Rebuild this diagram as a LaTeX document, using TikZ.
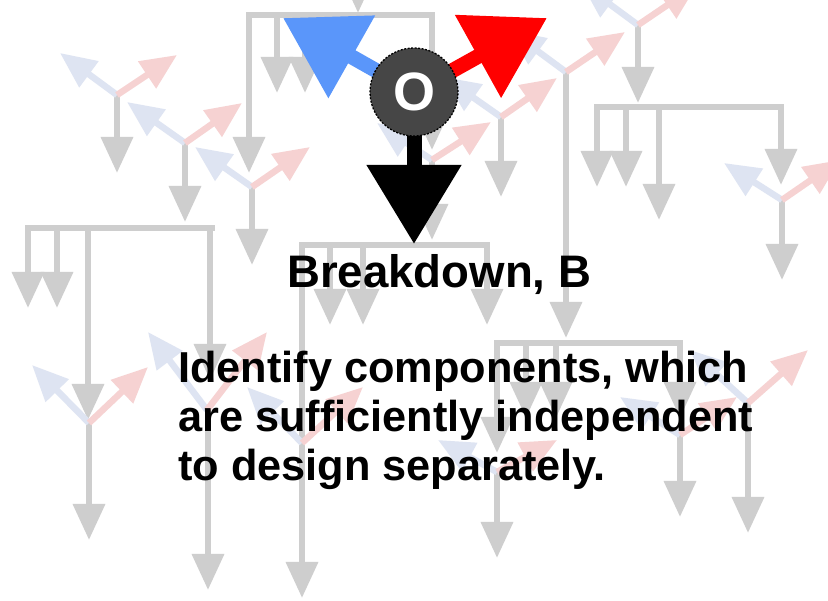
\documentclass[tikz,border=0pt]{standalone}
\usepackage{fontspec}
\setmainfont{Liberation Sans}
\usetikzlibrary{arrows.meta}
\definecolor{bgray}{RGB}{206,206,206}
\definecolor{bblue}{RGB}{222,228,242}
\definecolor{bred}{RGB}{246,210,210}
\definecolor{mainblue}{RGB}{90,150,250}
\definecolor{circgray}{RGB}{70,70,70}
\newcommand\mypastel[3]{\draw[ba] #1 -- #2; \draw[ra] #1 -- #3;}
\begin{document}
\begin{tikzpicture}[x=1pt,y=-1pt,
  gl/.style={draw=bgray,line width=6.5pt},
  ga/.style={gl,-{Triangle[width=31pt,length=36pt]}},
  ba/.style={draw=bblue,line width=6.5pt,-{Triangle[width=31pt,length=36pt]}},
  ra/.style={draw=bred,line width=6.5pt,-{Triangle[width=31pt,length=36pt]}},
  big/.style={line width=15pt,-{Triangle[width=91pt,length=79pt]}},
  txt/.style={font=\fontsize{43.3}{49}\selectfont\bfseries, inner sep=0pt, anchor=base west}]
\useasboundingbox (0,0) rectangle (828,601);
\fill[white] (0,0) rectangle (828,601);
\clip (0,0) rectangle (828,601);
% ---------- background: grey trees ----------
\draw[ga] (358,-40) -- (358,13);
\draw[gl] (246,15) -- (435,15);
\draw[ga] (249,15) -- (249,173);
\draw[ga] (277,15) -- (277,93);
\draw[ga] (305,15) -- (305,93);
\draw[ga] (432,15) -- (432,150);
\draw[ga] (117,95) -- (117,173);
\draw[ga] (185,143) -- (185,222);
\draw[ga] (252,187) -- (252,265);
\draw[gl] (594,107) -- (784,107);
\draw[ga] (597,107) -- (597,187);
\draw[ga] (626,107) -- (626,187);
\draw[ga] (659,107) -- (659,220);
\draw[ga] (781,107) -- (781,185);
\draw[ga] (638,25) -- (638,103);
\draw[ga] (782,200) -- (782,280);
\draw[gl] (25,228) -- (215,228);
\draw[ga] (28,228) -- (28,308);
\draw[ga] (57,228) -- (57,308);
\draw[ga] (88,228) -- (88,420);
\draw[ga] (210,228) -- (210,380);
\draw[ga] (89,423) -- (89,540);
\draw[ga] (208,410) -- (208,590);
\draw[gl] (299,245) -- (490,245);
\draw[ga] (302,245) -- (302,598);
\draw[ga] (330,245) -- (330,325);
\draw[ga] (363,245) -- (363,325);
\draw[ga] (487,245) -- (487,325);
\draw[ga] (432,160) -- (432,240);
\draw[ga] (501,117) -- (501,197);
\draw[ga] (566,72) -- (566,338);
\draw[gl] (494,343) -- (683,343);
\draw[ga] (497,343) -- (497,453);
\draw[ga] (526,343) -- (526,418);
\draw[ga] (556,343) -- (556,418);
\draw[ga] (680,343) -- (680,418);
\draw[ga] (497,470) -- (497,558);
\draw[ga] (680,435) -- (680,517);
\draw[ga] (748,403) -- (748,533);
% ---------- background: pastel arrows ----------
\mypastel{(117,95)}{(60,53)}{(177,55)}
\mypastel{(185,143)}{(127,102)}{(242,103)}
\mypastel{(252,187)}{(195,147)}{(310,147)}
\mypastel{(638,25)}{(581,-17)}{(697,-15)}
\mypastel{(566,72)}{(509,30)}{(625,32)}
\mypastel{(501,117)}{(444,77)}{(557,78)}
\mypastel{(432,160)}{(377,123)}{(491,122)}
\mypastel{(782,200)}{(724,163)}{(840,160)}
\mypastel{(89,423)}{(32,365)}{(148,367)}
\mypastel{(207,410)}{(148,332)}{(267,332)}
\mypastel{(302,443)}{(247,387)}{(363,387)}
\mypastel{(497,472)}{(438,440)}{(557,440)}
\mypastel{(680,435)}{(620,397)}{(737,397)}
\mypastel{(748,403)}{(690,350)}{(808,350)}
% ---------- foreground ----------
\coordinate (c) at (414,92);
\coordinate (bt) at (283,18);
\coordinate (rt) at (547,18);
\coordinate (kt) at (414,244);
\draw[big,draw=mainblue] (c) -- (bt);
\draw[big,draw=red] (c) -- (rt);
\draw[big,draw=black] (c) -- (kt);
\node[circle,fill=circgray,draw=black,line width=1.3pt,dash pattern=on 2pt off 1.5pt,
      minimum size=88pt,inner sep=0pt,text=white,
      font=\fontsize{54}{54}\selectfont\bfseries] (o) at (c) {O};
\node[txt,font=\fontsize{45.6}{50}\selectfont\bfseries] (bd) at (287,288) {Breakdown, B};
\node[txt] (l1) at (178,383) {Identify components, which};
\node[txt] (l2) at (178,432) {are sufficiently independent};
\node[txt] (l3) at (178,481) {to design separately.};
\end{tikzpicture}
\end{document}
